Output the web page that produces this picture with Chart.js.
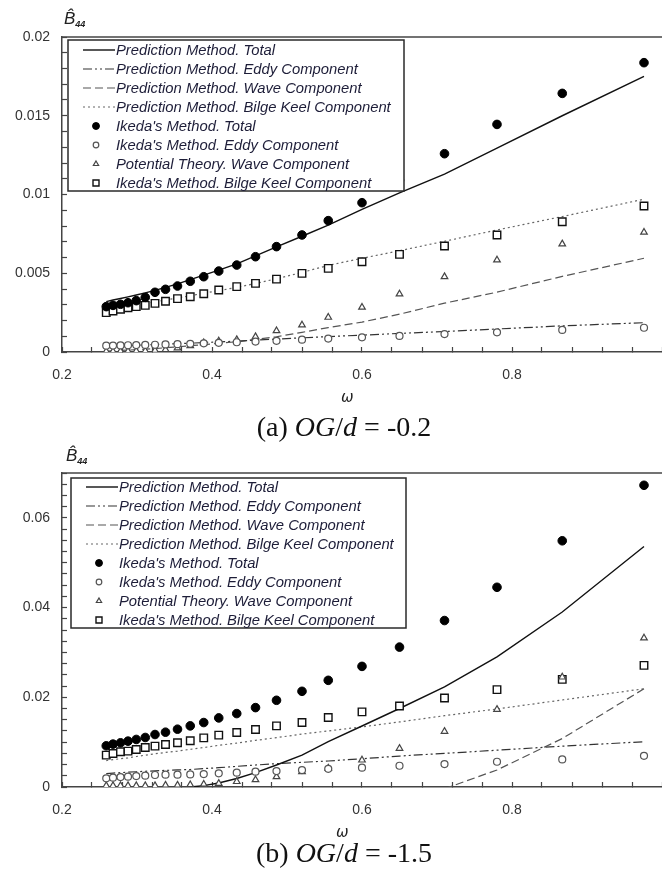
<!DOCTYPE html>
<html>
<head>
<meta charset="utf-8">
<script src="https://cdn.jsdelivr.net/npm/chart.js@4.4.1/dist/chart.umd.min.js"></script>
<style>
  body { margin: 0; background: #fff; }
  #page { position: relative; width: 662px; height: 879px; overflow: hidden; }
  .box { position: absolute; left: 0; }
  .ylab { position: absolute; font-family: "Liberation Sans", Arial, sans-serif; font-style: italic; font-size: 17px; color: #222; line-height: 20px; }
  .ylab sub { font-size: 9px; font-weight: bold; vertical-align: -3px; }
  .xlab { position: absolute; font-family: "DejaVu Sans", sans-serif; font-style: italic; font-size: 15px; color: #222; }
  .cap { position: absolute; left: 0; width: 688px; text-align: center; font-family: "Liberation Serif", "Times New Roman", serif; font-size: 28px; color: #111; line-height: 30px; }
</style>
</head>
<body>
<div id="page">
  <!-- canvases are 20px wider than the page: the x axis keeps 20px on its right, which gets cut off -->
  <div class="box" style="top:0;"><canvas id="chartA" width="682" height="400"></canvas></div>
  <div class="box" style="top:436px;"><canvas id="chartB" width="682" height="400"></canvas></div>
  <div class="ylab" style="left:64px;top:9px;">B&#770;<sub>44</sub></div>
  <div class="ylab" style="left:66px;top:446px;">B&#770;<sub>44</sub></div>
  <div class="xlab" style="left:341px;top:388px;">ω</div>
  <div class="xlab" style="left:336px;top:823px;">ω</div>
  <div class="cap" style="top:412px;">(a) <i>OG</i>/<i>d</i> = -0.2</div>
  <div class="cap" style="top:838px;">(b) <i>OG</i>/<i>d</i> = -1.5</div>
</div>
<script>
const omega = [0.259, 0.268, 0.278, 0.288, 0.299, 0.311, 0.324, 0.338, 0.354, 0.371, 0.389, 0.409,
  0.433, 0.458, 0.486, 0.520, 0.555, 0.600, 0.650, 0.710, 0.780, 0.867, 0.976];

const labels = [
  "Prediction Method. Total",
  "Prediction Method. Eddy Component",
  "Prediction Method. Wave Component",
  "Prediction Method. Bilge Keel Component",
  "Ikeda's Method. Total",
  "Ikeda's Method. Eddy Component",
  "Potential Theory. Wave Component",
  "Ikeda's Method. Bilge Keel Component",
];

// (a) OG/d = -0.2
const predTotalA = [0.00320, 0.00330, 0.00340, 0.00350, 0.00362, 0.00375, 0.00391, 0.00410, 0.00433, 0.00460, 0.00488, 0.00520,
  0.00560, 0.00610, 0.00668, 0.00735, 0.00805, 0.00905, 0.01010, 0.01130, 0.01295, 0.01500, 0.01750];
const predEddyA = [0.00035, 0.00037, 0.00039, 0.00041, 0.00043, 0.00045, 0.00047, 0.00050, 0.00053, 0.00056, 0.00060, 0.00064,
  0.00069, 0.00075, 0.00082, 0.00090, 0.00098, 0.00107, 0.00118, 0.00130, 0.00146, 0.00166, 0.00186];
const predWaveA = [0.00005, 0.00007, 0.00010, 0.00012, 0.00015, 0.00018, 0.00022, 0.00027, 0.00033, 0.00040, 0.00047, 0.00055,
  0.00065, 0.00080, 0.00097, 0.00125, 0.00155, 0.00190, 0.00240, 0.00310, 0.00380, 0.00480, 0.00595];
const predBkA = [0.00268, 0.00275, 0.00282, 0.00290, 0.00298, 0.00308, 0.00318, 0.00330, 0.00343, 0.00357, 0.00373, 0.00390,
  0.00410, 0.00435, 0.00465, 0.00505, 0.00550, 0.00595, 0.00643, 0.00703, 0.00775, 0.00860, 0.00970];
const ikedaTotalA = [0.00288, 0.00296, 0.00303, 0.00313, 0.00326, 0.00347, 0.00379, 0.00398, 0.00419, 0.00449, 0.00478, 0.00514,
  0.00552, 0.00605, 0.00669, 0.00743, 0.00834, 0.00948, 0.01090, 0.01259, 0.01445, 0.01642, 0.01837];
const ikedaEddyA = [0.00040, 0.00041, 0.00042, 0.00043, 0.00044, 0.00045, 0.00046, 0.00048, 0.00050, 0.00052, 0.00055, 0.00058,
  0.00062, 0.00066, 0.00071, 0.00078, 0.00085, 0.00093, 0.00102, 0.00114, 0.00125, 0.00140, 0.00154];
const potWaveA = [0.00004, 0.00004, 0.00005, 0.00005, 0.00006, 0.00007, 0.00010, 0.00015, 0.00025, 0.00040, 0.00058, 0.00070,
  0.00078, 0.00097, 0.00135, 0.00171, 0.00220, 0.00284, 0.00368, 0.00478, 0.00584, 0.00686, 0.00760];
const ikedaBkA = [0.00250, 0.00260, 0.00271, 0.00281, 0.00288, 0.00296, 0.00309, 0.00322, 0.00339, 0.00351, 0.00370, 0.00394,
  0.00415, 0.00436, 0.00463, 0.00499, 0.00531, 0.00573, 0.00620, 0.00673, 0.00743, 0.00827, 0.00927];

// (b) OG/d = -1.5
const predTotalB = [null, null, null, null, null, null, null, null, null, 0.0000, 0.0003, 0.0009,
  0.0019, 0.0032, 0.0049, 0.0071, 0.0101, 0.0136, 0.0175, 0.0223, 0.0290, 0.0390, 0.0536];
const predEddyB = [0.0030, 0.0031, 0.0032, 0.0033, 0.0034, 0.0035, 0.0036, 0.0037, 0.0038, 0.0039, 0.0041, 0.0043,
  0.0046, 0.0049, 0.0052, 0.0055, 0.0058, 0.0063, 0.0069, 0.0075, 0.0082, 0.0091, 0.0101];
const predWaveB = [null, null, null, null, null, null, null, null, null, null, null, null,
  null, null, null, null, null, null, null, -0.0004, 0.0038, 0.0108, 0.0219];
const predBkB = [0.0059, 0.0061, 0.0063, 0.0065, 0.0068, 0.0071, 0.0074, 0.0077, 0.0080, 0.0084, 0.0088, 0.0093,
  0.0098, 0.0104, 0.0110, 0.0118, 0.0125, 0.0134, 0.0145, 0.0159, 0.0174, 0.0194, 0.0219];
const ikedaTotalB = [0.00918, 0.00956, 0.00985, 0.01022, 0.01060, 0.01104, 0.01170, 0.01222, 0.01289, 0.01363, 0.01437, 0.01540,
  0.01637, 0.01770, 0.01933, 0.02133, 0.02378, 0.02689, 0.03119, 0.03711, 0.04452, 0.05489, 0.06726];
const ikedaEddyB = [0.00193, 0.00207, 0.00222, 0.00230, 0.00244, 0.00252, 0.00267, 0.00274, 0.00274, 0.00281, 0.00289, 0.00304,
  0.00319, 0.00341, 0.00356, 0.00378, 0.00405, 0.00430, 0.00474, 0.00511, 0.00563, 0.00615, 0.00696];
const potWaveB = [0.0003, 0.0003, 0.0003, 0.0003, 0.0003, 0.0003, 0.0003, 0.0004, 0.0004, 0.0005, 0.0006, 0.0008,
  0.0012, 0.0016, 0.0023, 0.0034, 0.0042, 0.0060, 0.0086, 0.0124, 0.0173, 0.0245, 0.0332];
const ikedaBkB = [0.00711, 0.00748, 0.00785, 0.00800, 0.00837, 0.00881, 0.00911, 0.00948, 0.00985, 0.01030, 0.01096, 0.01156,
  0.01215, 0.01282, 0.01363, 0.01437, 0.01548, 0.01674, 0.01807, 0.01985, 0.02170, 0.02400, 0.02711];

function pts(values) {
  return omega.map((x, i) => ({ x: x, y: values[i] }));
}

function lineSet(label, values, color, dash, width) {
  return {
    type: "line", label: label, data: pts(values), order: 1,
    borderColor: color, borderWidth: width, borderDash: dash,
    pointRadius: 0, fill: false, tension: 0, spanGaps: false,
  };
}

function pointSet(label, values, style, radius, fillColor, strokeColor, width) {
  return {
    type: "scatter", label: label, data: pts(values), order: 0, showLine: false,
    pointStyle: style, pointRadius: radius, pointBackgroundColor: fillColor,
    pointBorderColor: strokeColor, pointBorderWidth: width,
  };
}

// white legend box with border, drawn over the data like in the figure
const boxLegend = {
  id: "boxLegend",
  afterDatasetsDraw(chart, args, opts) {
    const ctx = chart.ctx;
    ctx.save();
    ctx.fillStyle = "#fff";
    ctx.fillRect(opts.x, opts.y, opts.w, opts.h);
    ctx.strokeStyle = "#2a2a2a";
    ctx.lineWidth = 1.5;
    ctx.strokeRect(opts.x, opts.y, opts.w, opts.h);
    ctx.font = "italic 14.8px 'Liberation Sans', Arial, sans-serif";
    ctx.textBaseline = "middle";
    chart.data.datasets.forEach((ds, i) => {
      const y = opts.y + opts.first + i * opts.row;
      if (ds.showLine === false) {
        ctx.setLineDash([]);
        ctx.fillStyle = ds.pointBackgroundColor;
        ctx.strokeStyle = ds.pointBorderColor;
        ctx.lineWidth = ds.pointBorderWidth;
        Chart.helpers.drawPoint(ctx, {
          pointStyle: ds.pointStyle, rotation: 0,
          radius: ds.pointRadius * 0.8, borderWidth: ds.pointBorderWidth,
        }, opts.x + 28, y);
      } else {
        ctx.strokeStyle = ds.borderColor;
        ctx.lineWidth = ds.borderWidth;
        ctx.setLineDash(ds.borderDash || []);
        ctx.beginPath();
        ctx.moveTo(opts.x + 15, y);
        ctx.lineTo(opts.x + 47, y);
        ctx.stroke();
      }
      ctx.fillStyle = "#1d1d38";
      ctx.fillText(ds.label, opts.x + 48, y + 1);
    });
    ctx.restore();
  },
  afterDraw(chart) {
    const a = chart.chartArea;
    const ctx = chart.ctx;
    ctx.save();
    ctx.strokeStyle = "#444";
    ctx.lineWidth = 1.5;
    ctx.beginPath();
    ctx.moveTo(a.left, a.top);
    ctx.lineTo(a.right, a.top);
    ctx.stroke();
    ctx.restore();
  },
};

function makeChart(id, sets, yMax, yStep, yLabelStep, xAxisHeight, legend) {
  const ds = [
    lineSet(labels[0], sets[0], "#111", [], 1.4),
    lineSet(labels[1], sets[1], "#333", [9, 3, 2, 3, 2, 3], 1.2),
    lineSet(labels[2], sets[2], "#555", [8, 4], 1.2),
    lineSet(labels[3], sets[3], "#666", [2, 3], 1.2),
    pointSet(labels[4], sets[4], "circle", 4.3, "#000", "#000", 1),
    pointSet(labels[5], sets[5], "circle", 3.5, "#fff", "#555", 1.2),
    pointSet(labels[6], sets[6], "triangle", 3.8, "#fff", "#444", 1.2),
    pointSet(labels[7], sets[7], "rect", 5.3, "#fff", "#111", 1.4),
  ];
  return new Chart(document.getElementById(id), {
    data: { datasets: ds },
    plugins: [boxLegend],
    options: {
      responsive: false,
      animation: false,
      layout: { padding: { top: 37, left: 0, right: 0, bottom: 0 } },
      plugins: {
        legend: { display: false },
        tooltip: { enabled: false },
        boxLegend: legend,
      },
      scales: {
        x: {
          type: "linear",
          min: 0.2,
          max: 1.0,
          afterFit: (s) => { s.height = xAxisHeight; },
          border: { color: "#444", width: 1.5 },
          grid: { drawOnChartArea: false, tickLength: -5, tickColor: "#444", tickWidth: 1.2 },
          ticks: {
            stepSize: 0.04,
            autoSkip: false,
            maxRotation: 0,
            padding: 20,
            color: "#333",
            font: { family: "'Liberation Sans', Arial, sans-serif", size: 14 },
            callback: (v) => {
              const k = v / 0.2;
              if (Math.abs(k - Math.round(k)) > 1e-6 || v > 0.9) return "";
              return String(+v.toFixed(2));
            },
          },
        },
        y: {
          type: "linear",
          min: 0,
          max: yMax,
          afterFit: (s) => { s.width = 62; },
          border: { color: "#444", width: 1.5 },
          grid: { drawOnChartArea: false, tickLength: -5, tickColor: "#444", tickWidth: 1.2 },
          ticks: {
            stepSize: yStep,
            autoSkip: false,
            padding: 17,
            color: "#333",
            font: { family: "'Liberation Sans', Arial, sans-serif", size: 14 },
            callback: (v) => {
              const k = v / yLabelStep;
              if (Math.abs(k - Math.round(k)) > 1e-6) return "";
              return String(+v.toFixed(4));
            },
          },
        },
      },
    },
  });
}

makeChart("chartA",
  [predTotalA, predEddyA, predWaveA, predBkA, ikedaTotalA, ikedaEddyA, potWaveA, ikedaBkA],
  0.02, 0.001, 0.005, 48,
  { x: 68, y: 40, w: 336, h: 151, first: 10, row: 19 });

makeChart("chartB",
  [predTotalB, predEddyB, predWaveB, predBkB, ikedaTotalB, ikedaEddyB, potWaveB, ikedaBkB],
  0.07, 0.0025, 0.02, 49,
  { x: 71, y: 42, w: 335, h: 150, first: 9, row: 19 });
</script>
</body>
</html>
